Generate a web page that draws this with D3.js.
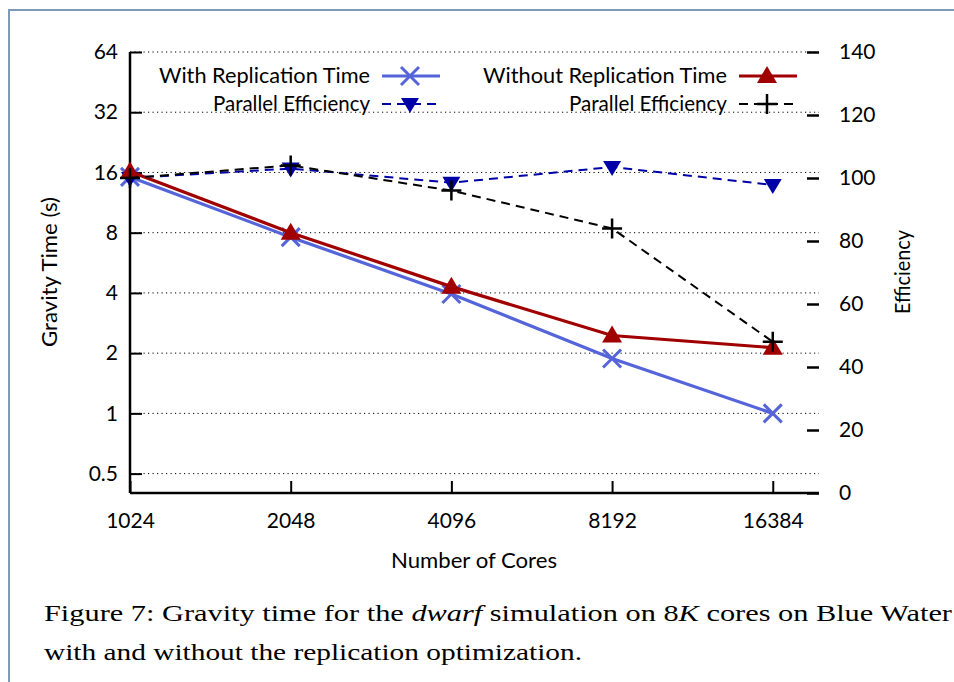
<!DOCTYPE html>
<html>
<head>
<meta charset="utf-8">
<script src="https://cdn.jsdelivr.net/npm/d3@7"></script>
<style>
  body { margin: 0; background: #fff; }
</style>
</head>
<body>
<svg id="chart" width="954" height="682" font-family="Lato, 'Open Sans', sans-serif"></svg>
<script>
const cores = [1024, 2048, 4096, 8192, 16384];
const timeTicks = [0.5, 1, 2, 4, 8, 16, 32, 64];
const effTicks = [0, 20, 40, 60, 80, 100, 120, 140];

const withTime = [15.2, 7.6, 3.95, 1.88, 1.0];
const withEff = [100, 103, 98.5, 103.5, 97.8];
const withoutTime = [16.2, 8.0, 4.3, 2.45, 2.13];
const withoutEff = [100, 104, 96, 84, 48];

const svg = d3.select("#chart");
const plotL = 130, plotR = 819, plotT = 52, plotB = 493;
const fs = 21;

const x = d3.scaleLog().base(2).domain([1024, 20000]).range([plotL, plotR]);
const y = d3.scaleLog().base(2).domain([0.4, 64]).range([plotB, plotT]);
const y2 = d3.scaleLinear().domain([0, 140]).range([plotB, plotT]);

// frame
svg.append("path")
  .attr("d", "M9,682 V10 H954")
  .attr("fill", "none")
  .attr("stroke", "#7f9ab5")
  .attr("stroke-width", 2);

// grid
svg.append("g").selectAll("line").data(timeTicks).join("line")
  .attr("x1", plotL).attr("x2", plotR)
  .attr("y1", d => y(d)).attr("y2", d => y(d))
  .attr("stroke", "#000").attr("stroke-width", 1)
  .attr("stroke-dasharray", "1.2,3.3");

// left axis
const yAxis = d3.axisLeft(y).tickValues(timeTicks).tickFormat(d => d)
  .tickSizeInner(-12).tickSizeOuter(0).tickPadding(12);
const gy = svg.append("g").attr("transform", `translate(${plotL},0)`).call(yAxis);
gy.select(".domain").attr("d", `M0,${plotT}V${plotB}`).attr("stroke-width", 2.5);
gy.selectAll(".tick line").attr("stroke-width", 2);

// bottom axis
const xAxis = d3.axisBottom(x).tickValues(cores).tickFormat(d => d)
  .tickSizeInner(-12).tickSizeOuter(0).tickPadding(20);
const gx = svg.append("g").attr("transform", `translate(0,${plotB})`).call(xAxis);
gx.select(".domain").attr("d", `M${plotL},0H${plotR}`).attr("stroke-width", 2.5);
gx.selectAll(".tick line").attr("stroke-width", 2);

// right axis (ticks only)
const y2Axis = d3.axisRight(y2).tickValues(effTicks)
  .tickSizeInner(-12).tickSizeOuter(0).tickPadding(20);
const gy2 = svg.append("g").attr("transform", `translate(${plotR},0)`).call(y2Axis);
gy2.select(".domain").remove();
gy2.selectAll(".tick line").attr("stroke-width", 2.5);

[gx, gy, gy2].forEach(g => g.attr("font-family", null).attr("font-size", fs));

// axis titles
svg.append("text").attr("transform", "translate(57,272) rotate(-90)")
  .attr("text-anchor", "middle").attr("font-size", fs)
  .attr("textLength", 150).attr("lengthAdjust", "spacingAndGlyphs").text("Gravity Time (s)");
svg.append("text").attr("transform", "translate(910,272) rotate(-90)")
  .attr("text-anchor", "middle").attr("font-size", fs)
  .attr("textLength", 84).attr("lengthAdjust", "spacingAndGlyphs").text("Efficiency");
svg.append("text").attr("x", 474).attr("y", 568)
  .attr("text-anchor", "middle").attr("font-size", fs)
  .attr("textLength", 166).attr("lengthAdjust", "spacingAndGlyphs").text("Number of Cores");

// marker helpers
function marker(g, type, color, cx, cy) {
  if (type === "x") {
    const s = 9;
    g.append("path").attr("d", `M${cx - s},${cy - s}L${cx + s},${cy + s}M${cx - s},${cy + s}L${cx + s},${cy - s}`)
      .attr("stroke", color).attr("stroke-width", 3).attr("fill", "none");
  } else if (type === "tri") {
    g.append("path").attr("d", `M${cx},${cy - 10}L${cx + 10},${cy + 7}L${cx - 10},${cy + 7}Z`).attr("fill", color);
  } else if (type === "itri") {
    g.append("path").attr("d", `M${cx},${cy + 9}L${cx + 9},${cy - 6}L${cx - 9},${cy - 6}Z`).attr("fill", color);
  } else if (type === "plus") {
    const s = 10;
    g.append("path").attr("d", `M${cx - s},${cy}H${cx + s}M${cx},${cy - s}V${cy + s}`)
      .attr("stroke", color).attr("stroke-width", 2.5).attr("fill", "none");
  }
}

const series = [
  { label: "With Replication Time", vals: withTime, scale: y, color: "#5565d9", width: 3.2, dash: null, mark: "x", lx: 370, ly: 76, tl: 211 },
  { label: "Parallel Efficiency", vals: withEff, scale: y2, color: "#0000a8", width: 2, dash: "9,6", mark: "itri", lx: 370, ly: 104, tl: 157 },
  { label: "Without Replication Time", vals: withoutTime, scale: y, color: "#a00000", width: 3.2, dash: null, mark: "tri", lx: 727, ly: 76, tl: 244 },
  { label: "Parallel Efficiency", vals: withoutEff, scale: y2, color: "#000", width: 2, dash: "9,6", mark: "plus", lx: 727, ly: 104, tl: 158 }
];

const line = d3.line();
series.forEach(s => {
  const g = svg.append("g");
  const pts = cores.map((c, i) => [x(c), s.scale(s.vals[i])]);
  g.append("path").attr("d", line(pts))
    .attr("fill", "none").attr("stroke", s.color).attr("stroke-width", s.width)
    .attr("stroke-dasharray", s.dash);
  pts.forEach(p => marker(g, s.mark, s.color, p[0], p[1]));

  // legend entry
  const lg = svg.append("g");
  lg.append("text").attr("x", s.lx).attr("y", s.ly + 7).attr("text-anchor", "end")
    .attr("font-size", fs).attr("textLength", s.tl).attr("lengthAdjust", "spacingAndGlyphs").text(s.label);
  lg.append("line").attr("x1", s.lx + 12).attr("x2", s.lx + 70)
    .attr("y1", s.ly).attr("y2", s.ly)
    .attr("stroke", s.color).attr("stroke-width", s.width).attr("stroke-dasharray", s.dash);
  marker(lg, s.mark, s.color, s.lx + 40, s.ly);
});

// caption
const serif = "Liberation Serif";
const cap = svg.append("g").attr("font-size", 23);
const l1 = cap.append("text").attr("x", 44).attr("y", 621).style("font-family", serif);
l1.append("tspan").style("font-family", serif).text("Figure 7: Gravity time for the ");
l1.append("tspan").style("font-family", serif).attr("font-style", "italic").text("dwarf");
l1.append("tspan").style("font-family", serif).text(" simulation on 8");
l1.append("tspan").style("font-family", serif).attr("font-style", "italic").text("K");
l1.append("tspan").style("font-family", serif).text(" cores on Blue Water");
const l2 = cap.append("text").attr("x", 44).attr("y", 660).style("font-family", serif)
  .text("with and without the replication optimization.");
l1.attr("textLength", 908).attr("lengthAdjust", "spacingAndGlyphs");
l2.attr("textLength", 538).attr("lengthAdjust", "spacingAndGlyphs");
</script>
</body>
</html>
